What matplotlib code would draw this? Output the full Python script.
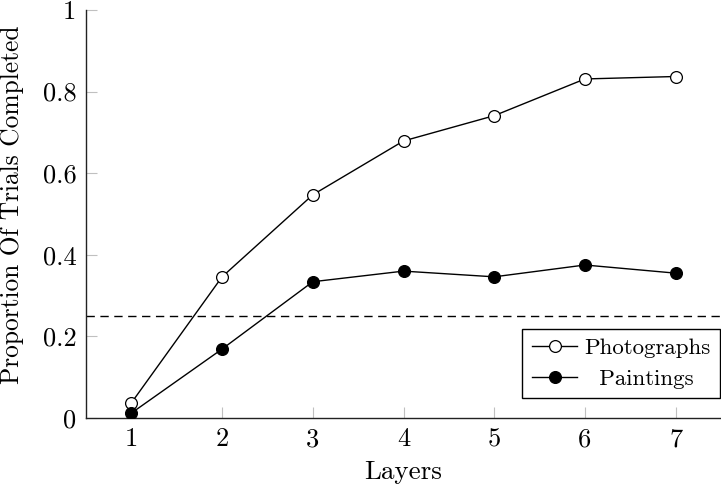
import matplotlib
matplotlib.use("Agg")
import matplotlib.pyplot as plt

layers = [1, 2, 3, 4, 5, 6, 7]
photographs = [0.037, 0.346, 0.547, 0.679, 0.741, 0.831, 0.837]
paintings = [0.012, 0.169, 0.334, 0.360, 0.346, 0.375, 0.355]
chance = 0.25
yticks = [0, 0.2, 0.4, 0.6, 0.8, 1.0]
ytick_labels = ["0", "0.2", "0.4", "0.6", "0.8", "1"]

plt.rcParams['font.family'] = ['cmr10', 'DejaVu Serif']
plt.rcParams['axes.formatter.use_mathtext'] = True

fig = plt.figure(figsize=(7.21, 4.87), dpi=100)
ax = fig.add_axes([86/721, 69/487, 635/721, 408/487])

ax.axhline(chance, color='black', lw=1.0, ls=(0, (6, 4)), zorder=1)
ax.plot(layers, photographs, color='black', lw=1.0, marker='o', ms=8.5,
        mfc='white', mec='black', mew=0.9, label='Photographs', zorder=3)
ax.plot(layers, paintings, color='black', lw=1.0, marker='o', ms=8.5,
        mfc='black', mec='black', mew=0.9, label='  Paintings', zorder=3)

ax.set_xlim(0.5, 7.5)
ax.set_ylim(0, 1)
ax.set_xticks(layers)
ax.set_xticklabels([str(v) for v in layers])
ax.set_yticks(yticks)
ax.set_yticklabels(ytick_labels)

for s in ['top', 'right']:
    ax.spines[s].set_visible(False)
for s in ['left', 'bottom']:
    ax.spines[s].set_linewidth(1.0)
    ax.spines[s].set_color('#222222')

ax.tick_params(direction='in', length=8, width=0.8, color='#c0c0c0',
               labelsize=19, pad=7)
ax.set_xlabel('Layers', fontsize=19.5, labelpad=6)
ax.set_ylabel('Proportion Of Trials Completed', fontsize=18.3)
ax.yaxis.set_label_coords(-0.097, 0.522)

leg = ax.legend(loc='lower right', bbox_to_anchor=(0.998, 0.049),
                borderaxespad=0, fontsize=16.5, fancybox=False,
                edgecolor='black', framealpha=1, handlelength=2.0,
                handletextpad=0.3, borderpad=0.4, labelspacing=0.45)
leg.get_frame().set_linewidth(1.0)

fig.savefig('out.png', dpi=100)
